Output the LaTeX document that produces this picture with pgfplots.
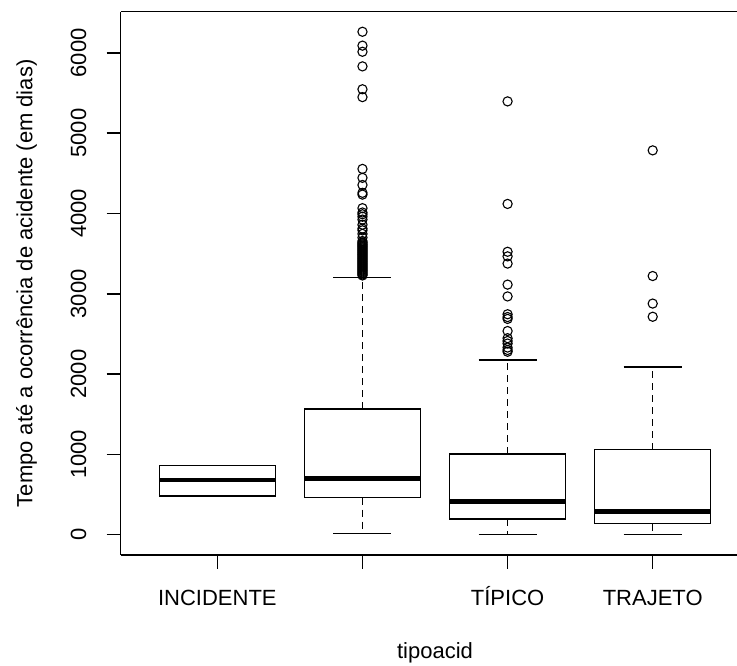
\documentclass[border=0pt]{standalone}
\usepackage{fontspec}
\setmainfont{Liberation Sans}
\usepackage{pgfplots}
\pgfplotsset{compat=1.18}
\usepgfplotslibrary{statistics}
\usetikzlibrary{calc}

% R-style boxplot: dashed whisker stems, solid caps, thick median
\pgfplotsset{
  rbox/.style={
    black, line width=0.75pt, solid,
    mark=o, mark size=2.3pt, mark options={line width=0.55pt, solid},
    boxplot/draw direction=y,
    boxplot/box extend=0.8,
    boxplot/whisker extend=0.4,
    boxplot/every median/.style={line width=2.3pt, line cap=butt},
    boxplot/draw/lower whisker/.code={
      \draw[dash pattern=on 3.5pt off 2.5pt]
        (boxplot box cs:\pgfplotsboxplotvalue{lower quartile},0.5) --
        (boxplot box cs:\pgfplotsboxplotvalue{lower whisker},0.5);
      \draw (boxplot whisker cs:\pgfplotsboxplotvalue{lower whisker},0) --
        (boxplot whisker cs:\pgfplotsboxplotvalue{lower whisker},1);
    },
    boxplot/draw/upper whisker/.code={
      \draw[dash pattern=on 3.5pt off 2.5pt]
        (boxplot box cs:\pgfplotsboxplotvalue{upper quartile},0.5) --
        (boxplot box cs:\pgfplotsboxplotvalue{upper whisker},0.5);
      \draw (boxplot whisker cs:\pgfplotsboxplotvalue{upper whisker},0) --
        (boxplot whisker cs:\pgfplotsboxplotvalue{upper whisker},1);
    },
  },
}

\begin{document}
\begin{tikzpicture}[font=\fontsize{11}{13.2}\selectfont]
\begin{axis}[
  scale only axis, width=308.15pt, height=271.65pt,
  xmin=0.334, xmax=4.581, ymin=-253, ymax=6513,
  axis y line*=left,
  axis line style={line width=0.75pt},
  tick style={black, line width=0.75pt},
  major tick length=7pt, tick align=outside, tick pos=left,
  xtick={1,2,3,4}, xticklabels={INCIDENTE,,TÍPICO,TRAJETO},
  ytick={0,1000,2000,3000,4000,5000,6000},
  scaled y ticks=false,
  /pgf/number format/assume math mode=true,
  /pgf/number format/set thousands separator={},
  xticklabel style={inner sep=0pt, anchor=north, text height=9pt, text depth=0pt},
  xticklabel shift=9pt,
  yticklabel style={rotate=90, anchor=south, inner sep=0pt},
  yticklabel shift=10pt,
  clip=false,
]
% INCIDENTE
\addplot[rbox, boxplot prepared={draw position=1,
  lower whisker=482, lower quartile=482, median=681,
  upper quartile=859, upper whisker=859}] coordinates {};
% second category (label not shown)
\addplot[rbox, boxplot prepared={draw position=2,
  lower whisker=15, lower quartile=462, median=698,
  upper quartile=1565, upper whisker=3203}]
  table[row sep=\\, y index=0] {
  3228\\3240\\3252\\3265\\3278\\3290\\3302\\3315\\3327\\3340\\3352\\3365\\
  3377\\3390\\3402\\3415\\3427\\3440\\3452\\3465\\3478\\3490\\3502\\3515\\
  3527\\3540\\3552\\3565\\3578\\3590\\3603\\3615\\3628\\3640\\3657\\3700\\
  3746\\3790\\3812\\3860\\3924\\3960\\3990\\4012\\4066\\4235\\4257\\4355\\
  4444\\4555\\5449\\5547\\5832\\6014\\6090\\6263\\
  };
% TIPICO
\addplot[rbox, boxplot prepared={draw position=3,
  lower whisker=0, lower quartile=197, median=410,
  upper quartile=1006, upper whisker=2176}]
  table[row sep=\\, y index=0] {
  2278\\2300\\2330\\2380\\2412\\2447\\2536\\2687\\2710\\2745\\2967\\3114\\
  3376\\3466\\3523\\4119\\5396\\
  };
% TRAJETO
\addplot[rbox, boxplot prepared={draw position=4,
  lower whisker=0, lower quartile=138, median=285,
  upper quartile=1060, upper whisker=2087}]
  table[row sep=\\, y index=0] {
  2714\\2878\\3221\\4786\\
  };
\coordinate (bl) at (rel axis cs:0,0);
\coordinate (tr) at (rel axis cs:1,1);
\coordinate (ym) at (rel axis cs:0,0.5);
\coordinate (xl) at (axis cs:2.5,-253);
\end{axis}
\node[anchor=base] at ($(xl)+(0,-52pt)$) {tipoacid};
\node[rotate=90, anchor=base] at ($(ym)+(-44.1pt,0)$)
  {Tempo até a ocorrência de acidente (em dias)};
\pgfresetboundingbox
\path[use as bounding box] ($(bl)+(-60.35pt,-55.5pt)$) rectangle ($(tr)+(0pt,5.85pt)$);
\end{tikzpicture}
\end{document}
